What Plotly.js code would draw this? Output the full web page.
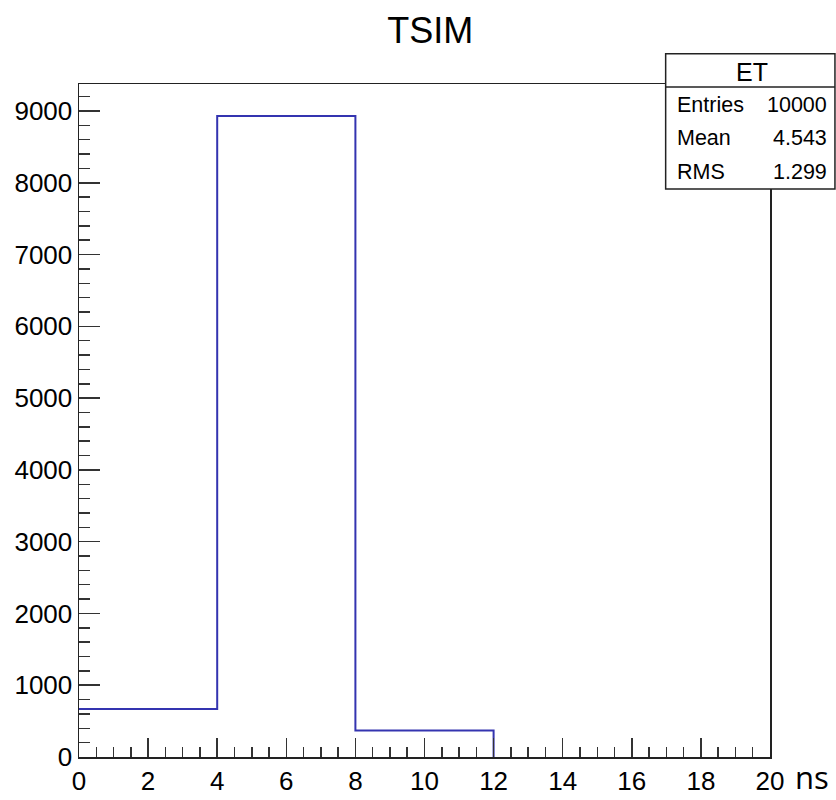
<!DOCTYPE html>
<html>
<head>
<meta charset="utf-8">
<script src="https://cdn.plot.ly/plotly-3.0.1.min.js"></script>
<style>html,body{margin:0;padding:0;background:#fff;}#chart{width:836px;height:800px;}</style>
</head>
<body>
<div id="chart"></div>
<script>
// Histogram data
const binEdges = [0, 4, 8, 12, 16, 20];
const counts = [670, 8930, 370, 0, 0];
const histName = "ET";
const statsLabels = ["Entries", "Mean", "RMS"];
const statsValues = ["10000", "4.543", "1.299"];
const titleText = "TSIM";
const xTitle = "ns";

// step outline up to the last non-empty bin (empty bins sit on the axis line)
let lastBin = counts.length - 1;
while (lastBin > 0 && counts[lastBin] === 0) lastBin--;
const stepX = binEdges.slice(0, lastBin + 2);
const stepY = counts.slice(0, lastBin + 1).concat([0]);

const trace = {
  x: stepX, y: stepY, type: 'scatter', mode: 'lines',
  line: {shape: 'hv', color: '#3434b0', width: 2},
  hoverinfo: 'skip', showlegend: false, cliponaxis: false
};

const ymax = Math.max.apply(null, counts) * 1.05;
const font = {family: 'Liberation Sans, Arial, sans-serif', color: '#000'};

const axisCommon = {
  showgrid: false, zeroline: false, showline: true, mirror: true,
  linecolor: '#222', linewidth: 1.5, ticks: 'inside', tickcolor: '#333',
  tickwidth: 1.5, tickfont: Object.assign({size: 26}, font)
};

const boxX0 = 0.849, boxX1 = 1.094, boxTop = 1.045, boxBot = 0.844, boxHead = 0.9955;
const rowY = [0.9692, 0.920, 0.8697];

const annotations = [
  {xref: 'paper', yref: 'paper', x: 0.9735, y: 1.0183, text: histName, showarrow: false,
   xanchor: 'center', yanchor: 'middle', font: Object.assign({size: 25}, font)},
  {xref: 'paper', yref: 'paper', x: 1.0605, y: -0.0625, text: xTitle, showarrow: false,
   xanchor: 'center', yanchor: 'bottom', borderpad: 0,
   font: {family: 'Open Sans, sans-serif', size: 31, color: '#000'}}
];
statsLabels.forEach((lab, i) => {
  annotations.push({xref: 'paper', yref: 'paper', x: 0.8625, y: rowY[i], text: lab, showarrow: false,
    xanchor: 'left', yanchor: 'middle', font: Object.assign({size: 21.5}, font)});
  annotations.push({xref: 'paper', yref: 'paper', x: 1.086, y: rowY[i], text: statsValues[i], showarrow: false,
    xanchor: 'right', yanchor: 'middle', font: Object.assign({size: 21.5}, font)});
});

const layout = {
  width: 836, height: 800,
  margin: {l: 79, r: 66, t: 84, b: 43, pad: 0},
  paper_bgcolor: '#fff', plot_bgcolor: '#fff',
  title: {text: titleText, x: 0.5084, xanchor: 'center', xref: 'paper', y: 0.9625, yanchor: 'middle',
          yref: 'container', font: Object.assign({size: 36}, font)},
  xaxis: Object.assign({}, axisCommon, {
    range: [0, 20], tick0: 0, dtick: 2, ticklen: 19,
    minor: {dtick: 0.5, ticklen: 10, ticks: 'inside', tickcolor: '#333', tickwidth: 1.5, showgrid: false}
  }),
  yaxis: Object.assign({}, axisCommon, {
    range: [0, ymax], tick0: 0, dtick: 1000, ticklen: 21,
    minor: {dtick: 200, ticklen: 11, ticks: 'inside', tickcolor: '#333', tickwidth: 1.5, showgrid: false}
  }),
  shapes: [
    {type: 'rect', xref: 'paper', yref: 'paper', x0: boxX0, x1: boxX1, y0: boxBot, y1: boxTop,
     fillcolor: '#fff', line: {color: '#222', width: 1.5}, layer: 'above'},
    {type: 'line', xref: 'paper', yref: 'paper', x0: boxX0, x1: boxX1, y0: boxHead, y1: boxHead,
     line: {color: '#222', width: 1.5}, layer: 'above'}
  ],
  annotations: annotations,
  showlegend: false
};

Plotly.newPlot('chart', [trace], layout, {displayModeBar: false, staticPlot: true});
</script>
</body>
</html>
